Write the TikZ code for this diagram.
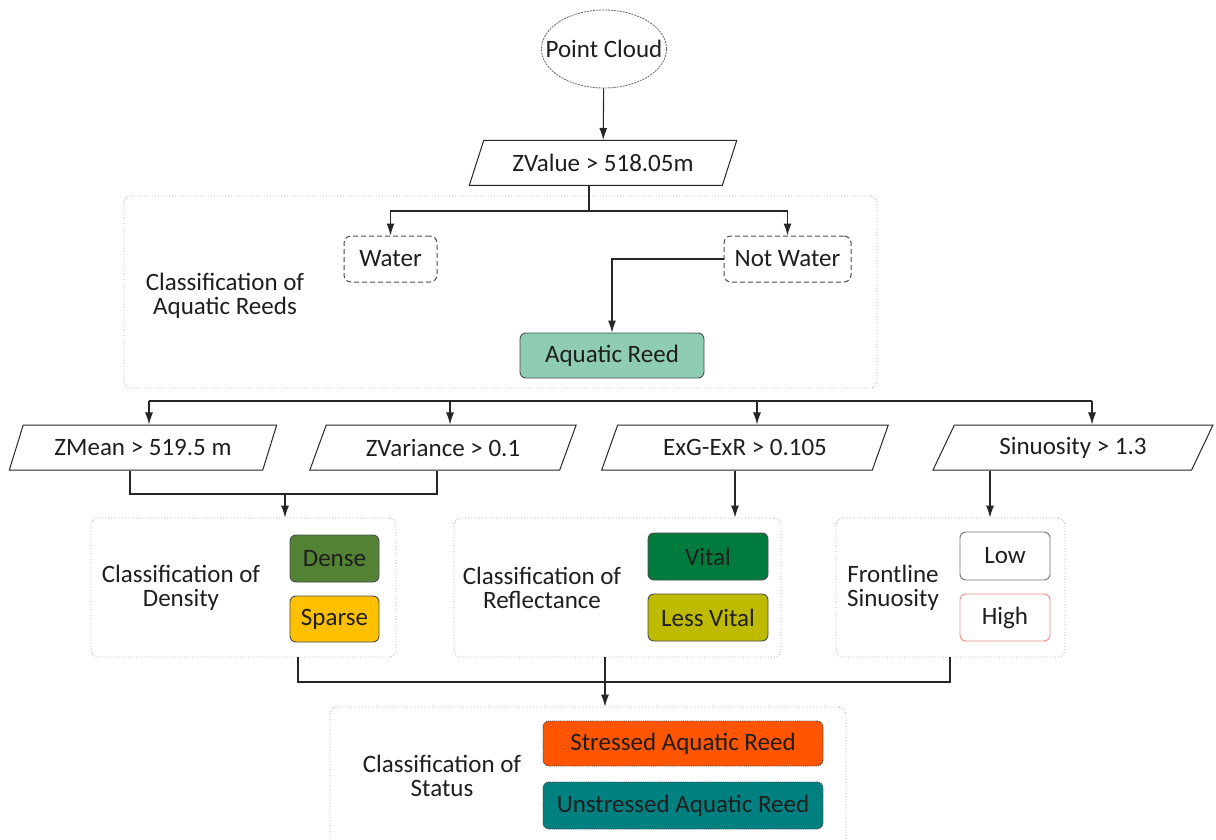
\documentclass[tikz,border=0pt]{standalone}
\usepackage{fontspec}
\setmainfont{Carlito}
\usetikzlibrary{shapes.geometric,arrows.meta,calc}

\definecolor{txt}{HTML}{1E1E1E}
\definecolor{reedfill}{HTML}{8FCDB2}
\definecolor{densefill}{HTML}{548235}
\definecolor{sparsefill}{HTML}{FFC000}
\definecolor{vitalfill}{HTML}{007A3D}
\definecolor{lessfill}{HTML}{BEBA00}
\definecolor{stressfill}{HTML}{FF5500}
\definecolor{unstressfill}{HTML}{008080}
\definecolor{highline}{HTML}{F08A8A}

\begin{document}
\begin{tikzpicture}[x=1pt,y=-1pt,
  every node/.style={font=\fontsize{25}{24}\selectfont, text=txt, inner sep=0pt},
  panel/.style={draw=black!35, dotted, line width=0.8pt, rounded corners=7pt},
  para/.style={trapezium, trapezium left angle=58, trapezium right angle=122,
    trapezium stretches=true, draw=black!85, line width=1pt, minimum height=45pt},
  choice/.style={draw=black!70, dash pattern=on 5pt off 3pt, line width=1pt,
    rounded corners=7pt, minimum height=46pt},
  classbox/.style={draw=black!70, line width=0.9pt, rounded corners=6pt},
  statbox/.style={draw=black!75, densely dotted, line width=0.9pt, rounded corners=6pt,
    minimum width=280pt},
  lbl/.style={align=center},
  conn/.style={draw=black!85, line width=1.1pt},
  arr/.style={conn, -{Latex[length=12pt,width=8pt]}}
]
\useasboundingbox (0,0) rectangle (1216,840);

% panels
\node[panel, minimum width=753pt, minimum height=192pt] (aqpanel) at (500.5,292) {};
\node[panel, minimum width=305pt, minimum height=139pt] (dens) at (243.5,587.5) {};
\node[panel, minimum width=327pt, minimum height=139pt] (refl) at (617.5,587.5) {};
\node[panel, minimum width=229pt, minimum height=139pt] (front) at (950.5,587.5) {};
\node[panel, minimum width=516pt, minimum height=160pt] (stat) at (588,787) {};

% top of the flow
\node[ellipse, draw=black!60, dash pattern=on 2pt off 1pt, line width=0.8pt,
  minimum width=125pt, minimum height=78pt] (pc) at (604,49) {};
\node (pctext) at (pc.center) {Point Cloud};
\node[para, minimum width=268pt] (zv) at (603,163) {ZValue > 518.05m};

% aquatic reed classification
\node[choice, minimum width=93pt] (water) at (390.5,259) {Water};
\node[choice, minimum width=127pt] (notw) at (787.5,259) {Not Water};
\node[classbox, fill=reedfill, minimum width=184pt, minimum height=45pt] (aqr) at (612,355.5) {Aquatic Reed};
\node[lbl] (aqlbl) at (225,296) {Classification of\\Aquatic Reeds};

% thresholds
\node[para, minimum width=268pt] (zmean) at (143,447.5) {ZMean > 519.5 m};
\node[para, minimum width=267pt] (zvar) at (443,447.5) {ZVariance > 0.1};
\node[para, minimum width=287pt] (exg) at (745,447.5) {ExG-ExR > 0.105};
\node[para, minimum width=280pt] (sinu) at (1073,447.5) {Sinuosity > 1.3};

% density
\node[lbl] (denlbl) at (181,588) {Classification of\\Density};
\node[classbox, fill=densefill, minimum width=89pt, minimum height=47pt] (dense) at (334.5,558.5) {Dense};
\node[classbox, fill=sparsefill, minimum width=89pt, minimum height=46pt] (sparse) at (334.5,619) {Sparse};

% reflectance
\node[lbl] (reflbl) at (542,588) {Classification of\\Reflectance};
\node[classbox, fill=vitalfill, minimum width=120pt, minimum height=47pt] (vital) at (708,556.5) {Vital};
\node[classbox, fill=lessfill, minimum width=120pt, minimum height=47pt] (less) at (708,617.5) {Less Vital};

% sinuosity
\node[lbl] (frlbl) at (893,588) {Frontline\\Sinuosity};
\node[classbox, draw=black!55, fill=white, minimum width=90pt, minimum height=48pt] (low) at (1005,556) {Low};
\node[classbox, draw=highline, fill=white, minimum width=90pt, minimum height=47pt] (high) at (1005,617.5) {High};

% status
\node[lbl] (stlbl) at (442,776) {Classification of\\Status};
\node[statbox, fill=stressfill, minimum height=45pt] (stress) at (683,743.5) {Stressed Aquatic Reed};
\node[statbox, fill=unstressfill, minimum height=47pt] (unstress) at (683,805.5) {Unstressed Aquatic Reed};

% connectors
\draw[arr] (pc) -- (zv);

\coordinate (zvout) at ([xshift=-14pt]zv.south);
\coordinate (split) at ([yshift=-25pt]zvout);
\draw[conn] (zvout) -- (split);
\draw[arr] (split) -| (water.north);
\draw[arr] (split) -| (notw.north);
\draw[arr] (notw.west) -| (aqr.north);

% distribution bus to the thresholds
\coordinate (bus) at (0,401);
\coordinate (inZM) at ([xshift=6pt]zmean.north);
\coordinate (inZV) at ([xshift=7pt]zvar.north);
\coordinate (inEX) at ([xshift=12pt]exg.north);
\coordinate (inSI) at ([xshift=19pt]sinu.north);
\draw[conn] (inZM |- bus) -- (inSI |- bus);
\draw[arr] (inZM |- bus) -- (inZM);
\draw[arr] (inZV |- bus) -- (inZV);
\draw[arr] (inEX |- bus) -- (inEX);
\draw[arr] (inSI |- bus) -- (inSI);

% thresholds to the classification panels
\coordinate (joinA) at (0,494);
\coordinate (outZM) at ([xshift=-13pt]zmean.south);
\coordinate (outZV) at ([xshift=-6pt]zvar.south);
\coordinate (inDen) at ([xshift=41.5pt]dens.north);
\draw[conn] (outZM) -- (outZM |- joinA) -- (outZV |- joinA) -- (outZV);
\draw[arr] (inDen |- joinA) -- (inDen);

\coordinate (outEX) at ([xshift=-10pt]exg.south);
\draw[arr] (outEX) -- (outEX |- refl.north);
\coordinate (outSI) at ([xshift=-83pt]sinu.south);
\draw[arr] (outSI) -- (outSI |- front.north);

% panels to the status classification
\coordinate (joinB) at (0,682);
\coordinate (outDen) at ([xshift=54.5pt]dens.south);
\coordinate (outRef) at ([xshift=-12.5pt]refl.south);
\coordinate (outFr) at ([xshift=-0.5pt]front.south);
\draw[conn] (outDen) -- (outDen |- joinB) -- (outFr |- joinB) -- (outFr);
\draw[arr] (outRef) -- (outRef |- stat.north);
\end{tikzpicture}
\end{document}
